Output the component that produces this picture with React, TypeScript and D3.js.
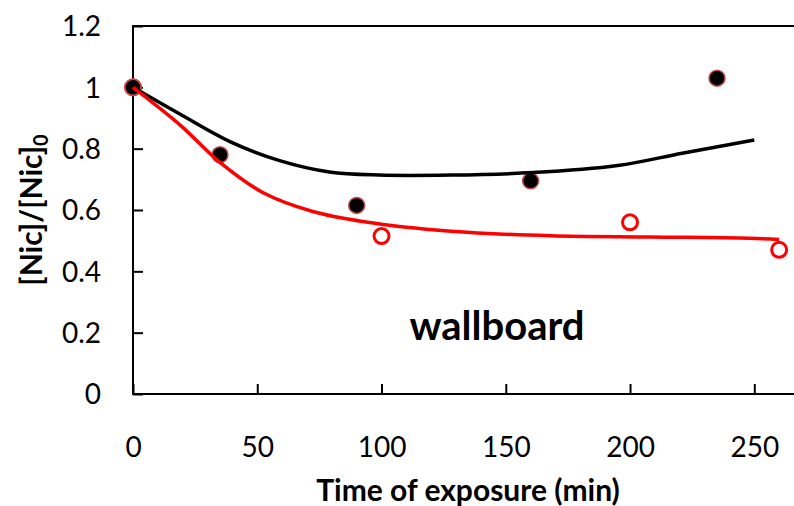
import React, { useEffect, useRef } from "react";
import * as d3 from "d3";

const width = 794;
const height = 506;

const xTicks = [0, 50, 100, 150, 200, 250];
const yTicks = [0, 0.2, 0.4, 0.6, 0.8, 1, 1.2];

// measured points
const blackTime = [0, 35, 90, 160, 235];
const blackValue = [1, 0.78, 0.615, 0.695, 1.03];
const redTime = [0, 100, 200, 260];
const redValue = [1, 0.515, 0.56, 0.47];

// fitted curves
const blackFitTime = [0, 19, 39, 59, 79, 99, 128, 161, 195, 221, 250];
const blackFitValue = [1, 0.912, 0.823, 0.761, 0.724, 0.714, 0.714, 0.722, 0.745, 0.785, 0.828];
const redFitTime = [0, 19, 35, 52, 72, 93, 128, 168, 208, 248, 260];
const redFitValue = [1, 0.877, 0.755, 0.658, 0.596, 0.562, 0.531, 0.516, 0.512, 0.508, 0.504];

const font = "Lato, 'Open Sans', sans-serif";

export default function App() {
  const ref = useRef<SVGSVGElement>(null);

  useEffect(() => {
    const svg = d3.select(ref.current);
    svg.selectAll("*").remove();

    const x = d3.scaleLinear().domain([0, 270]).range([133, 804]);
    const y = d3.scaleLinear().domain([0, 1.2]).range([394, 26]);

    // frame
    svg.append("rect")
      .attr("x", x(0)).attr("y", y(1.2))
      .attr("width", x(270) - x(0)).attr("height", y(0) - y(1.2))
      .attr("fill", "none").attr("stroke", "#000").attr("stroke-width", 2);

    const xAxis = svg.append("g")
      .attr("transform", "translate(0," + y(0) + ")")
      .call(d3.axisBottom(x).tickValues(xTicks).tickSize(-10).tickFormat(d3.format("d")));
    xAxis.select(".domain").remove();
    xAxis.selectAll("line").attr("stroke", "#000").attr("stroke-width", 2);
    xAxis.selectAll("text")
      .attr("y", 63).attr("dy", null)
      .attr("font-family", font).attr("font-size", 28).attr("fill", "#000");

    const yAxis = svg.append("g")
      .attr("transform", "translate(" + x(0) + ",0)")
      .call(d3.axisLeft(y).tickValues(yTicks).tickSize(-10).tickFormat(d => String(+d)));
    yAxis.select(".domain").remove();
    yAxis.selectAll("line").attr("stroke", "#000").attr("stroke-width", 2);
    yAxis.selectAll("text")
      .attr("x", -32).attr("dy", "0.35em")
      .attr("font-family", font).attr("font-size", 28).attr("fill", "#000");

    // markers
    svg.append("g").selectAll("circle")
      .data(redTime.map((t, i) => [t, redValue[i]]))
      .enter().append("circle")
      .attr("cx", d => x(d[0])).attr("cy", d => y(d[1]))
      .attr("r", 7.5)
      .attr("fill", "#fff").attr("stroke", "#ff0000").attr("stroke-width", 3);

    svg.append("g").selectAll("circle")
      .data(blackTime.map((t, i) => [t, blackValue[i]]))
      .enter().append("circle")
      .attr("cx", d => x(d[0])).attr("cy", d => y(d[1]))
      .attr("r", 8)
      .attr("fill", "#000").attr("stroke", "#c0504d").attr("stroke-width", 1.5);

    // fitted lines
    const line = d3.line<number[]>()
      .x(d => x(d[0])).y(d => y(d[1]))
      .curve(d3.curveCatmullRom.alpha(0.5));

    svg.append("path")
      .attr("d", line(blackFitTime.map((t, i) => [t, blackFitValue[i]])))
      .attr("fill", "none").attr("stroke", "#000").attr("stroke-width", 3.5);
    svg.append("path")
      .attr("d", line(redFitTime.map((t, i) => [t, redFitValue[i]])))
      .attr("fill", "none").attr("stroke", "#ff0000").attr("stroke-width", 3.5);

    // labels
    svg.append("text")
      .attr("x", 497).attr("y", 340)
      .attr("text-anchor", "middle")
      .attr("font-family", font).attr("font-weight", "bold").attr("font-size", 40)
      .text("wallboard");

    svg.append("text")
      .attr("x", 468).attr("y", 501)
      .attr("text-anchor", "middle")
      .attr("font-family", font).attr("font-weight", "bold").attr("font-size", 30)
      .text("Time of exposure (min)");

    const yt = svg.append("text")
      .attr("transform", "translate(42,210) rotate(-90)")
      .attr("text-anchor", "middle")
      .attr("font-family", font).attr("font-weight", "bold").attr("font-size", 30);
    yt.append("tspan").text("[Nic]/[Nic]");
    yt.append("tspan").attr("dy", 6).attr("font-size", 20).text("0");
  }, []);

  return (
    <svg
      ref={ref}
      width={width}
      height={height}
      style={{ position: "absolute", left: 0, top: 0, background: "#fff" }}
    />
  );
}
